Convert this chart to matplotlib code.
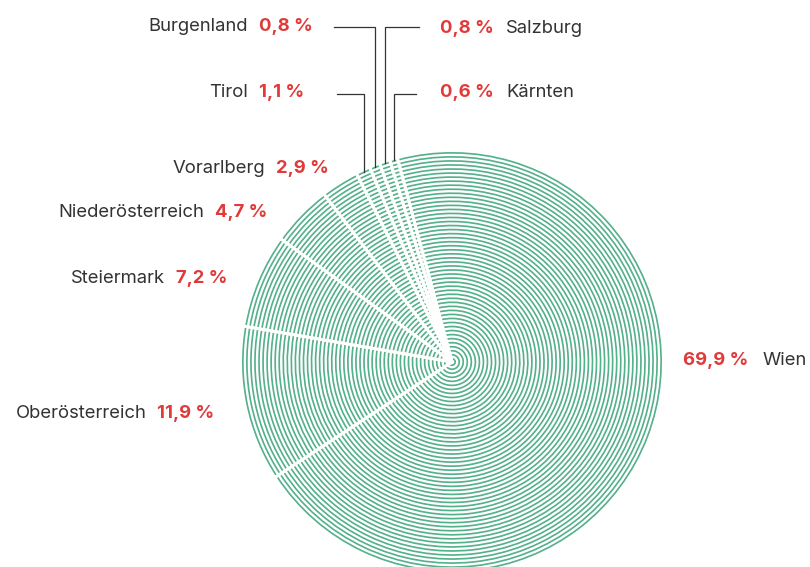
import matplotlib
matplotlib.use("Agg")
import matplotlib.pyplot as plt
import numpy as np

# ---- data ----
regions = ["Kärnten", "Salzburg", "Burgenland", "Tirol", "Vorarlberg",
           "Niederösterreich", "Steiermark", "Oberösterreich", "Wien"]
shares = [0.6, 0.8, 0.8, 1.1, 2.9, 4.7, 7.2, 11.9, 69.9]
share_labels = ["0,6 %", "0,8 %", "0,8 %", "1,1 %", "2,9 %", "4,7 %", "7,2 %", "11,9 %", "69,9 %"]

# ---- style / layout ----
W, H = 810, 567
GREEN = "#55b08c"
RED = "#e03a3a"
GREY = "#333333"
FONT = "Inter"
CX, CY = 452, H - 362
R = 210
N_RINGS = 52
RING_W = 1.7
START = 105

fig = plt.figure(figsize=(W / 100, H / 100), dpi=100)
ax = fig.add_axes([0, 0, 1, 1])

step = R / N_RINGS
for k in range(1, N_RINGS + 1):
    r = k * step
    ax.pie(shares, radius=r, center=(CX, CY), startangle=START, counterclock=True,
           colors=[GREEN] * len(shares),
           wedgeprops=dict(width=RING_W, linewidth=0))

# white separators
ax.pie(shares, radius=R + 3, center=(CX, CY), startangle=START, counterclock=True,
       wedgeprops=dict(fill=False, edgecolor="white", linewidth=2.1, joinstyle="round"))

ax.set_xlim(0, W)
ax.set_ylim(0, H)
ax.set_aspect("equal")
ax.axis("off")

# slice mid angles (from data)
fr = np.array(shares) / np.sum(shares)
cum = np.concatenate([[0], np.cumsum(fr)])
mids = START + 360 * (cum[:-1] + cum[1:]) / 2

# label layout: (side, x_a, x_b, baseline_y)
layout = {
    "Burgenland": ("L", 248, 259, 31),
    "Tirol": ("L", 248, 259, 97),
    "Vorarlberg": ("L", 265, 276, 173),
    "Niederösterreich": ("L", 204, 215, 217),
    "Steiermark": ("L", 165, 176, 283),
    "Oberösterreich": ("L", 147, 157, 418),
    "Salzburg": ("R", 440, 506, 33),
    "Kärnten": ("R", 440, 506, 97),
    "Wien": ("R", 683, 763, 365),
}
FS = 13.3
for name, lab in zip(regions, share_labels):
    side, xa, xb, yb = layout[name]
    y = H - yb
    if side == "L":
        ax.text(xa, y, name, ha="right", va="baseline", fontsize=FS, color=GREY, family=FONT)
        ax.text(xb, y, lab, ha="left", va="baseline", fontsize=FS, color=RED, family=FONT,
                fontweight="bold")
    else:
        ax.text(xa, y, lab, ha="left", va="baseline", fontsize=FS, color=RED, family=FONT,
                fontweight="bold")
        ax.text(xb, y, name, ha="left", va="baseline", fontsize=FS, color=GREY, family=FONT)

# leader lines for the small slices
leaders = {"Kärnten": (94, 416), "Salzburg": (27, 419), "Burgenland": (27, 334), "Tirol": (94, 337)}
for name, ang in zip(regions, mids):
    if name in leaders:
        ly, lx_end = leaders[name]
        a = np.deg2rad(ang)
        x0 = CX + R * np.cos(a)
        y0 = CY + R * np.sin(a)
        ax.plot([x0, x0, lx_end], [y0, H - ly, H - ly], color=GREY, lw=0.9, zorder=10,
                solid_joinstyle="miter")

fig.savefig("out.png", dpi=100)
